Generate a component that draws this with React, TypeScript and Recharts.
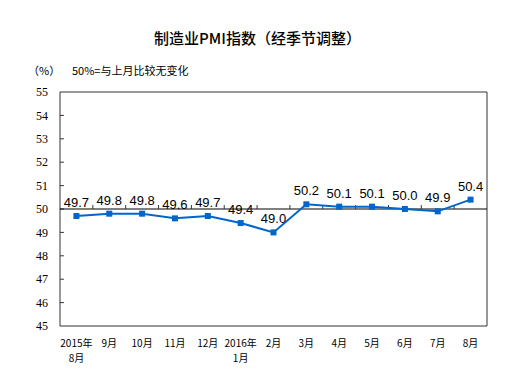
import { LineChart, Line, XAxis, YAxis, ReferenceLine, ReferenceArea, LabelList } from 'recharts';

const months = ['2015年|8月', '9月', '10月', '11月', '12月', '2016年|1月', '2月', '3月', '4月', '5月', '6月', '7月', '8月'];
const pmi = [49.7, 49.8, 49.8, 49.6, 49.7, 49.4, 49.0, 50.2, 50.1, 50.1, 50.0, 49.9, 50.4];
const yTicks = [45, 46, 47, 48, 49, 50, 51, 52, 53, 54, 55];

const data = months.map((m, i) => ({ x: i + 0.5, label: m, pmi: pmi[i] }));
const xTicks = data.map((d) => d.x);

const SquareDot = (props: any) => {
    const { cx, cy } = props;
    if (cx == null || cy == null) return null;
    return <rect x={cx - 3} y={cy - 3} width={6} height={6} fill="#0066CC" />;
};

const MonthTick = (props: any) => {
    const { x, y, payload } = props;
    const idx = Math.round(payload.value - 0.5);
    const lines = (months[idx] || '').split('|');
    return (
        <text x={x} y={y + 13} textAnchor="middle" fontSize={10}
            fontFamily="'Noto Sans CJK SC', sans-serif" fill="#000">
            {lines.map((l, i) => (
                <tspan key={i} x={x} dy={i === 0 ? 0 : 15}>{l}</tspan>
            ))}
        </text>
    );
};

export default function App() {
    return (
        <div style={{ position: 'absolute', left: 0, top: 0, width: 523, height: 379, background: '#fff' }}>
            <div style={{ position: 'absolute', left: 0, width: 515, top: 27, textAlign: 'center', fontSize: 15,
                fontFamily: "'Noto Sans CJK SC', sans-serif", fontWeight: 500, color: '#000' }}>
                制造业PMI指数（经季节调整）
            </div>
            <div style={{ position: 'absolute', left: 28, top: 62, fontSize: 11,
                fontFamily: "'Noto Sans CJK SC', sans-serif", color: '#000' }}>（%）</div>
            <div style={{ position: 'absolute', left: 72, top: 62, fontSize: 11,
                fontFamily: "'Noto Sans CJK SC', sans-serif", color: '#000' }}>50%=与上月比较无变化</div>
            <LineChart width={523} height={379} data={data} margin={{ top: 92, right: 36, left: 0, bottom: 0 }}>
                <XAxis dataKey="x" type="number" domain={[0, 13]} ticks={xTicks} tick={<MonthTick />}
                    axisLine={false} tickLine={false} height={53} interval={0} />
                <YAxis type="number" domain={[45, 55]} ticks={yTicks} width={60} axisLine={false} tickLine={false}
                    tickSize={0} tickMargin={12} interval={0}
                    tick={{ fontSize: 12, fontFamily: "'Liberation Serif', serif", fill: '#000' }} />
                <ReferenceArea x1={0} x2={13} y1={45} y2={55} fill="none" stroke="#333" strokeWidth={1} ifOverflow="visible" />
                {yTicks.slice(1, -1).map((t) => (
                    <ReferenceLine key={'y' + t} segment={[{ x: 0, y: t }, { x: 0.12, y: t }]} stroke="#333" />
                ))}
                <ReferenceLine y={50} stroke="#000" strokeWidth={1} />
                {xTicks.slice(1).map((_, k) => (
                    <ReferenceLine key={'x' + k} segment={[{ x: k + 1, y: 50 }, { x: k + 1, y: 50.17 }]} stroke="#333" />
                ))}
                <Line dataKey="pmi" stroke="#0066CC" strokeWidth={2} dot={<SquareDot />} isAnimationActive={false}>
                    <LabelList dataKey="pmi" position="top" offset={9} formatter={(v: any) => Number(v).toFixed(1)}
                        style={{ fontSize: 13, fontFamily: "'Liberation Sans', Arial, sans-serif", fill: '#000' }} />
                </Line>
            </LineChart>
        </div>
    );
}
